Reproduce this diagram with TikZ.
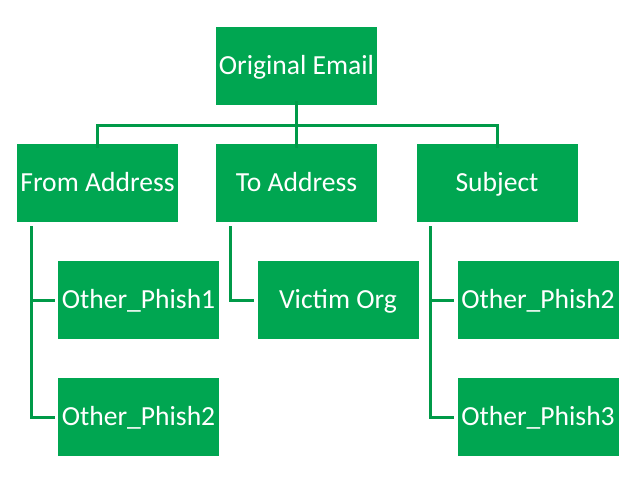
\documentclass[tikz,border=0pt]{standalone}
\usepackage{fontspec}
\setmainfont{Carlito}
\usepackage{tikz}
\usetikzlibrary{positioning, calc}

\definecolor{boxgreen}{RGB}{0,166,81}
\definecolor{linegreen}{RGB}{0,154,72}

\begin{document}
\begin{tikzpicture}[x=1pt, y=-1pt,
    box/.style={fill=boxgreen, text=white, minimum width=161pt, minimum height=78pt, inner sep=0pt, text depth=2pt, font=\fontsize{27.6}{32}\selectfont},
    link/.style={draw=linegreen, line width=3pt}]
    % Canvas
    \useasboundingbox (0,0) rectangle (633,483);

    % Root
    \node[box] (orig) at (296.5,66) {Original Email};

    % Second level
    \node[box] (from) at (97.5,183) {From Address};
    \node[box] (to) at (296.5,183) {To Address};
    \node[box] (subj) at (497,183) {Subject};

    % Leaves
    \node[box] (ph1) at (138.5,300) {Other\_Phish1};
    \node[box] (ph2a) at (138.5,417) {Other\_Phish2};
    \node[box] (victim) at (338,300) {Victim Org};
    \node[box] (ph2b) at (538,300) {Other\_Phish2};
    \node[box] (ph3) at (538,417) {Other\_Phish3};

    % Bus from root
    \coordinate (bus) at (296.5,125);
    \draw[link] ([yshift=4pt]orig.south) -- ([yshift=-4pt]to.north);
    \draw[link] ([yshift=-4pt]from.north) |- (bus) -| ([yshift=-4pt]subj.north);

    % Branches down to leaves
    \draw[link] ([shift={(15,4)}]from.south west) |- ([xshift=-3pt]ph1.west);
    \draw[link] ([shift={(15,4)}]from.south west) |- ([xshift=-3pt]ph2a.west);
    \draw[link] ([shift={(15,4)}]to.south west) |- ([xshift=-3pt]victim.west);
    \draw[link] ([shift={(14,4)}]subj.south west) |- ([xshift=-3pt]ph2b.west);
    \draw[link] ([shift={(14,4)}]subj.south west) |- ([xshift=-3pt]ph3.west);
\end{tikzpicture}
\end{document}
